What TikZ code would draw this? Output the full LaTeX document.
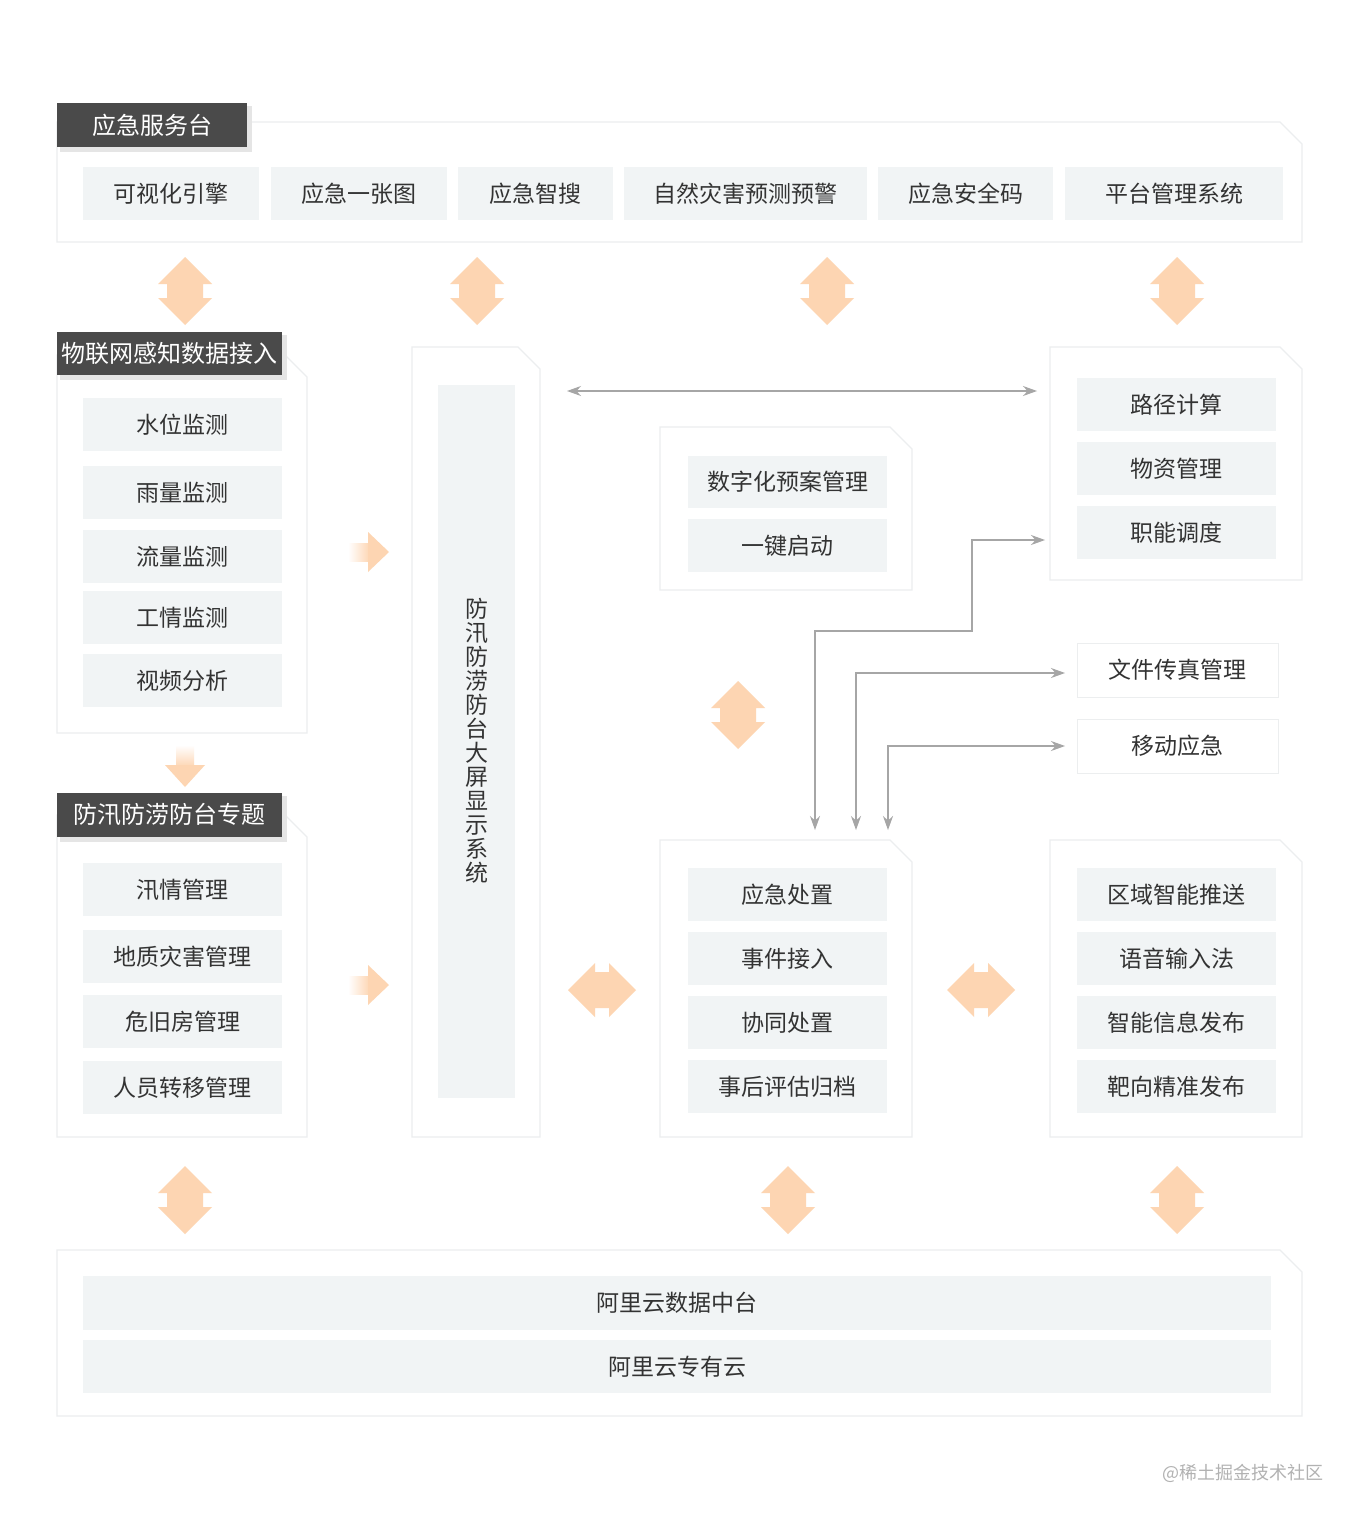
\documentclass[tikz,border=0pt]{standalone}
\usepackage{fontspec}
\setmainfont{Noto Sans CJK SC}
\usetikzlibrary{arrows.meta}
\definecolor{itemc}{HTML}{F1F4F5}
\definecolor{hdr}{HTML}{4A4A4A}
\definecolor{org}{HTML}{FDD5B2}
\definecolor{txt}{HTML}{333333}
\definecolor{pan}{HTML}{ECEEEF}
\tikzset{
 item/.style={fill=itemc,draw=none,inner sep=0pt,font=\fontsize{11.5}{13}\selectfont,text=txt},
 hdrbox/.style={fill=hdr,draw=none,inner sep=0pt,font=\fontsize{12}{13}\selectfont,text=white},
 wbox/.style={fill=white,draw=pan,inner sep=0pt,font=\fontsize{11.5}{13}\selectfont,text=txt},
 garrow/.style={draw=gray!70,line width=0.6pt,-{Stealth[length=7pt,width=5pt]}},
 dtip/.style={{Stealth[length=7pt,width=5pt]}-{Stealth[length=7pt,width=5pt]}},
}
\newcommand{\panel}[4]{\draw[pan,line width=0.6pt,fill=white] (#1,#2) -- (#3-22,#2) -- (#3,#2+22) -- (#3,#4) -- (#1,#4) -- cycle;}
\newcommand{\itm}[6]{\node[item,minimum width={(#4-#2)*0.5pt},minimum height={(#5-#3)*0.5pt}] (#1) at ({(#2+#4)/2},{(#3+#5)/2}) {#6};}
\newcommand{\varr}[3]{\fill[org] (#1,#2) -- (#1+27,#2+27) -- (#1+18,#2+27) -- (#1+18,#3-27) -- (#1+27,#3-27) -- (#1,#3) -- (#1-27,#3-27) -- (#1-18,#3-27) -- (#1-18,#2+27) -- (#1-27,#2+27) -- cycle;}
\newcommand{\harr}[3]{\fill[org] (#2,#1) -- (#2+27,#1-27) -- (#2+27,#1-18) -- (#3-27,#1-18) -- (#3-27,#1-27) -- (#3,#1) -- (#3-27,#1+27) -- (#3-27,#1+18) -- (#2+27,#1+18) -- (#2+27,#1+27) -- cycle;}
\begin{document}
\begin{tikzpicture}[x=0.5pt,y=-0.5pt]
\path[use as bounding box,fill=white] (0,0) rectangle (1360,1520);
% panels
\panel{57}{122}{1302}{242}
\panel{57}{355}{307}{733}
\panel{57}{815}{307}{1137}
\panel{412}{347}{540}{1137}
\panel{660}{427}{912}{590}
\panel{1050}{347}{1302}{580}
\panel{660}{840}{912}{1137}
\panel{1050}{840}{1302}{1137}
\panel{57}{1250}{1302}{1416}
% headers
\foreach \a/\b/\c/\d in {57/103/247/147,57/332/282/375,57/793/282/837}{\fill[gray!20] (\a+3,\b+3) rectangle (\c+5,\d+5);}
\node[hdrbox,minimum width=95pt,minimum height=22pt] (h1) at (152,125) {应急服务台};
\node[hdrbox,minimum width=112.5pt,minimum height=21.5pt] (h2) at (169.5,353.5) {物联网感知数据接入};
\node[hdrbox,minimum width=112.5pt,minimum height=22pt] (h3) at (169.5,815) {防汛防涝防台专题};
% top items
\itm{t1}{83}{167}{259}{220}{可视化引擎}
\itm{t2}{271}{167}{447}{220}{应急一张图}
\itm{t3}{458}{167}{613}{220}{应急智搜}
\itm{t4}{624}{167}{867}{220}{自然灾害预测预警}
\itm{t5}{878}{167}{1053}{220}{应急安全码}
\itm{t6}{1065}{167}{1283}{220}{平台管理系统}
% left
\itm{l1}{83}{398}{282}{451}{水位监测}
\itm{l2}{83}{466}{282}{519}{雨量监测}
\itm{l3}{83}{530}{282}{583}{流量监测}
\itm{l4}{83}{591}{282}{644}{工情监测}
\itm{l5}{83}{654}{282}{707}{视频分析}
\itm{m1}{83}{863}{282}{916}{汛情管理}
\itm{m2}{83}{930}{282}{983}{地质灾害管理}
\itm{m3}{83}{995}{282}{1048}{危旧房管理}
\itm{m4}{83}{1061}{282}{1114}{人员转移管理}
% vertical
\node[item,minimum width=38.5pt,minimum height=356.5pt] (v) at (476.5,741.5) {};
\node[text=txt,align=center,inner sep=0pt,font=\fontsize{11.5}{12}\selectfont,anchor=north] (vt) at (476.5,598) {防\\汛\\防\\涝\\防\\台\\大\\屏\\显\\示\\系\\统};
% mid upper
\itm{p1}{688}{456}{887}{508}{数字化预案管理}
\itm{p2}{688}{519}{887}{572}{一键启动}
% right upper
\itm{r1}{1077}{378}{1276}{431}{路径计算}
\itm{r2}{1077}{442}{1276}{495}{物资管理}
\itm{r3}{1077}{506}{1276}{559}{职能调度}
\node[wbox,minimum width=100.5pt,minimum height=27pt] (f1) at (1177.5,670) {文件传真管理};
\node[wbox,minimum width=100.5pt,minimum height=27pt] (f2) at (1177.5,746) {移动应急};
% mid lower
\itm{e1}{688}{868}{887}{921}{应急处置}
\itm{e2}{688}{932}{887}{985}{事件接入}
\itm{e3}{688}{996}{887}{1049}{协同处置}
\itm{e4}{688}{1060}{887}{1113}{事后评估归档}
\itm{s1}{1077}{868}{1276}{921}{区域智能推送}
\itm{s2}{1077}{932}{1276}{985}{语音输入法}
\itm{s3}{1077}{996}{1276}{1049}{智能信息发布}
\itm{s4}{1077}{1060}{1276}{1113}{靶向精准发布}
% bottom
\itm{b1}{83}{1276}{1271}{1330}{阿里云数据中台}
\itm{b2}{83}{1340}{1271}{1393}{阿里云专有云}
% orange arrows
\varr{185}{257}{325}
\varr{477}{257}{325}
\varr{827}{257}{325}
\varr{1177}{257}{325}
\varr{738}{681}{749}
\varr{185}{1166}{1234}
\varr{788}{1166}{1234}
\varr{1177}{1166}{1234}
\harr{990}{568}{636}
\harr{990}{947}{1015}
\shade[left color=white,right color=org] (348,543) rectangle (370,561);
\fill[org] (368,532) -- (389,552) -- (368,572) -- cycle;
\shade[left color=white,right color=org] (348,976) rectangle (370,994);
\fill[org] (368,965) -- (389,985) -- (368,1005) -- cycle;
\shade[top color=white,bottom color=org] (176,745) rectangle (194,767);
\fill[org] (165,765) -- (205,765) -- (185,787) -- cycle;
% gray connectors
\coordinate (ga) at (567,391); \coordinate (gb) at (1037,391);
\draw[garrow,dtip] (ga) -- (gb);
\coordinate (d1) at (815,830); \coordinate (d2) at (856,830); \coordinate (d3) at (888,830);
\coordinate (k1) at (1045,540); \coordinate (k2) at (1065,673); \coordinate (k3) at (1065,746);
\draw[garrow,dtip] (d1) -- (815,631) -- (972,631) -- (972,540) -- (k1);
\draw[garrow,dtip] (d2) -- (856,673) -- (k2);
\draw[garrow,dtip] (d3) -- (888,746) -- (k3);
\node[text=gray!60,font=\fontsize{9}{10}\selectfont] (wm) at (1243,1473) {@稀土掘金技术社区};
\end{tikzpicture}
\end{document}
